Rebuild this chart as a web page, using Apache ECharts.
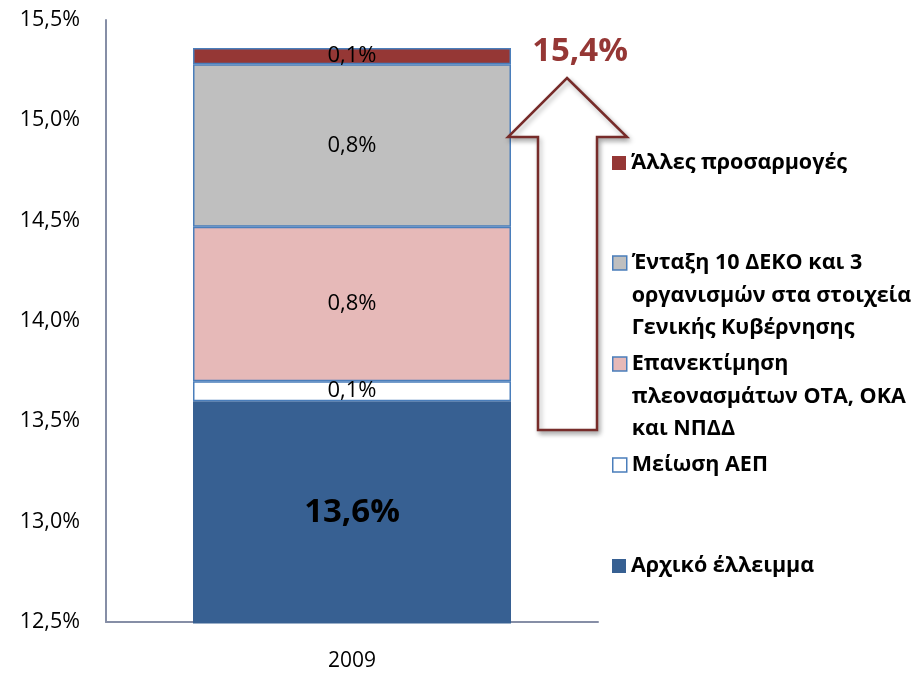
<!DOCTYPE html>
<html>
<head>
<meta charset="utf-8">
<title>Έλλειμμα 2009</title>
<script src="https://cdn.jsdelivr.net/npm/echarts@6/dist/echarts.min.js"></script>
<style>
  html, body { margin: 0; padding: 0; background: #fff; }
  #chart { width: 924px; height: 673px; }
</style>
</head>
<body>
<div id="chart"></div>
<script>
// δεδομένα
const categories = ["2009"];
const seriesNames = [
  "Αρχικό έλλειμμα",
  "Μείωση ΑΕΠ",
  "Επανεκτίμηση πλεονασμάτων ΟΤΑ, ΟΚΑ και ΝΠΔΔ",
  "Ένταξη 10 ΔΕΚΟ και 3 οργανισμών στα στοιχεία Γενικής Κυβέρνησης",
  "Άλλες προσαρμογές"
];
const legendLines = [
  ["Αρχικό έλλειμμα"],
  ["Μείωση ΑΕΠ"],
  ["Επανεκτίμηση", "πλεονασμάτων ΟΤΑ, ΟΚΑ", "και ΝΠΔΔ"],
  ["Ένταξη 10 ΔΕΚΟ και 3", "οργανισμών στα στοιχεία", "Γενικής Κυβέρνησης"],
  ["Άλλες προσαρμογές"]
];
const initialDeficit = [13.6];
const gdpReduction = [0.1];
const revaluation = [0.77];
const decoInclusion = [0.81];
const otherAdjustments = [0.08];
const yTicks = [12.5, 13.0, 13.5, 14.0, 14.5, 15.0, 15.5];

const FONT = '"Open Sans", "Noto Sans", sans-serif';
const colors = ["#376092", "#FFFFFF", "#E6B9B8", "#BFBFBF", "#953735"];
const fmt = v => v.toFixed(1).replace(".", ",") + "%";

const chart = echarts.init(document.getElementById("chart"));

const allData = [initialDeficit, gdpReduction, revaluation, decoInclusion, otherAdjustments];
const total = allData.reduce((s, d) => s + d[0], 0);

const series = allData.map((d, i) => {
  const base = i === 0;
  return {
    name: seriesNames[i],
    type: "bar",
    stack: "total",
    barWidth: 318,
    data: d,
    itemStyle: {
      color: colors[i],
      borderColor: base ? colors[0] : "#4A7EBB",
      borderWidth: base ? 3 : 1.5
    },
    label: {
      show: true,
      position: "inside",
      formatter: p => fmt(p.value),
      color: "#000",
      fontFamily: FONT,
      fontSize: base ? 33 : 22,
      fontWeight: base ? "bold" : "normal"
    }
  };
});

// legend: one component per item, icon on the first line
const legendCenters = [566, 465, 364, 263, 163];
const legendLine = 32.5;
const legends = seriesNames.map((name, i) => {
  const lines = legendLines[i];
  const pad = lines.length - 1;
  const text = Array(pad).fill("").concat(lines).join("\n");
  const nLines = lines.length + pad;
  return {
    data: [{
      name: name,
      itemStyle: i === 0 || i === 4
        ? { borderWidth: 0 }
        : { borderColor: "#4A7EBB", borderWidth: 1.5 }
    }],
    left: 612,
    top: legendCenters[i] - nLines * legendLine / 2,
    padding: 0,
    icon: "rect",
    itemWidth: 14,
    itemHeight: 14,
    itemGap: 6,
    selectedMode: false,
    formatter: () => text,
    textStyle: {
      fontFamily: FONT,
      fontSize: 21.5,
      fontWeight: "bold",
      color: "#000",
      lineHeight: legendLine
    }
  };
});

const option = {
  animation: false,
  backgroundColor: "#fff",
  grid: { left: 106, right: 326, top: 20, bottom: 51 },
  legend: legends,
  xAxis: {
    type: "category",
    data: categories,
    axisLine: { lineStyle: { color: "#868EA6", width: 2 } },
    axisTick: { show: false },
    axisLabel: { color: "#000", fontFamily: FONT, fontSize: 21, margin: 29 }
  },
  yAxis: {
    type: "value",
    min: yTicks[0],
    max: yTicks[yTicks.length - 1],
    interval: 0.5,
    axisLine: { show: true, lineStyle: { color: "#868EA6", width: 2 } },
    axisTick: { show: false },
    splitLine: { show: false },
    axisLabel: {
      color: "#000",
      fontFamily: FONT,
      fontSize: 21.5,
      margin: 26,
      formatter: v => v.toFixed(1).replace(".", ",") + "%"
    }
  },
  series: series,
  graphic: [
    {
      type: "polygon",
      shape: {
        points: [[567, 78], [627, 137], [597, 137], [597, 430], [538, 430], [538, 137], [508, 137]]
      },
      style: {
        fill: "#fff",
        stroke: "#772C2A",
        lineWidth: 2.5,
        shadowBlur: 5,
        shadowOffsetX: 2,
        shadowOffsetY: 3,
        shadowColor: "rgba(0,0,0,0.3)"
      },
      z: 5
    },
    {
      type: "text",
      x: 580,
      y: 52,
      style: {
        text: fmt(total),
        fill: "#953735",
        fontFamily: FONT,
        fontSize: 33,
        fontWeight: "bold",
        align: "center",
        verticalAlign: "middle"
      },
      z: 6
    }
  ]
};

chart.setOption(option);
window.addEventListener("resize", () => chart.resize(), false);
</script>
</body>
</html>
